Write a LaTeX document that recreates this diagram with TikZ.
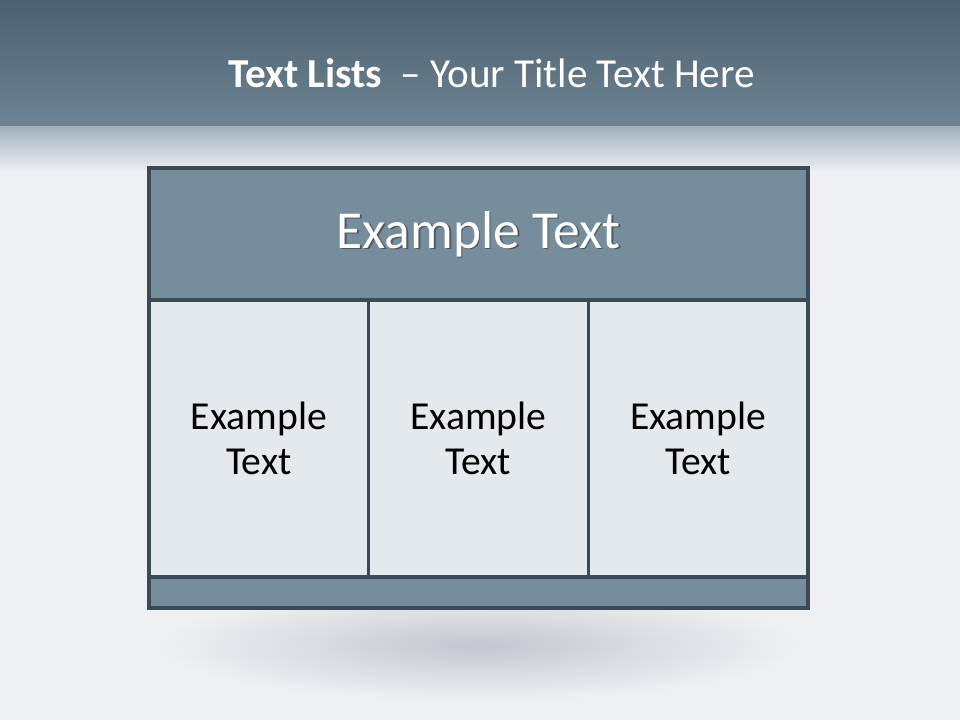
\documentclass[tikz,border=0pt]{standalone}
\usepackage{fontspec}
\setmainfont{Carlito}
\usepackage{tikz}
\usetikzlibrary{positioning}
\definecolor{BandTop}{HTML}{4D6170}
\definecolor{BandBottom}{HTML}{6E8493}
\definecolor{BandFade}{HTML}{A4B1BB}
\definecolor{PageBg}{HTML}{EEF0F3}
\definecolor{FrameLine}{HTML}{3A4A56}
\definecolor{HeadFill}{HTML}{768D9B}
\definecolor{CellFill}{HTML}{E4E9ED}
\definecolor{ShadowGray}{HTML}{C3C7CD}
\tikzset{
    panel/.style={draw=FrameLine, line width=2.5pt, outer sep=0pt, inner sep=0pt, align=center},
    headbox/.style={panel, fill=HeadFill, minimum width=16.475cm, minimum height=3.3cm},
    cellbox/.style={panel, fill=CellFill, minimum width=5.4917cm, minimum height=6.925cm, text=black, font=\fontsize{28.2}{32}\selectfont},
    footbox/.style={panel, fill=HeadFill, minimum width=16.475cm, minimum height=0.775cm},
    headtext/.style={text=white, anchor=base, font=\fontsize{38}{45}\selectfont},
    titletext/.style={text=white, anchor=base, font=\fontsize{29.3}{35}\selectfont}
}

\begin{document}
\begin{tikzpicture}
    \useasboundingbox (0,0) rectangle (24,18);

    % page background and title band
    \fill[PageBg] (0,0) rectangle (24,18);
    \shade[top color=BandTop, bottom color=BandBottom] (0,14.825) rectangle (24,18);
    \shade[top color=BandFade, bottom color=PageBg] (0,13.7) rectangle (24,14.825);
    \shade[inner color=ShadowGray, outer color=PageBg] (11.95,1.875) ellipse (8cm and 1.4cm);

    \node[titletext] (title) at (12.29,15.8) {\textbf{Text Lists}\ \ – Your Title Text Here};

    % table
    \node[headbox] (header) at (11.9625,12.15) {};
    \node[cellbox, below right=0pt and 0pt of header.south west] (cellA) {Example\\Text};
    \node[cellbox, right=0pt of cellA] (cellB) {Example\\Text};
    \node[cellbox, right=0pt of cellB] (cellC) {Example\\Text};
    \node[footbox, below right=0pt and 0pt of cellA.south west] (footer) {};

    \node[headtext, text=black, opacity=0.35] (headshadow) at ([xshift=1.2pt, yshift=-0.35cm-1.2pt]header.center) {Example Text};
    \node[headtext] (headlabel) at ([yshift=-0.35cm]header.center) {Example Text};
\end{tikzpicture}
\end{document}
